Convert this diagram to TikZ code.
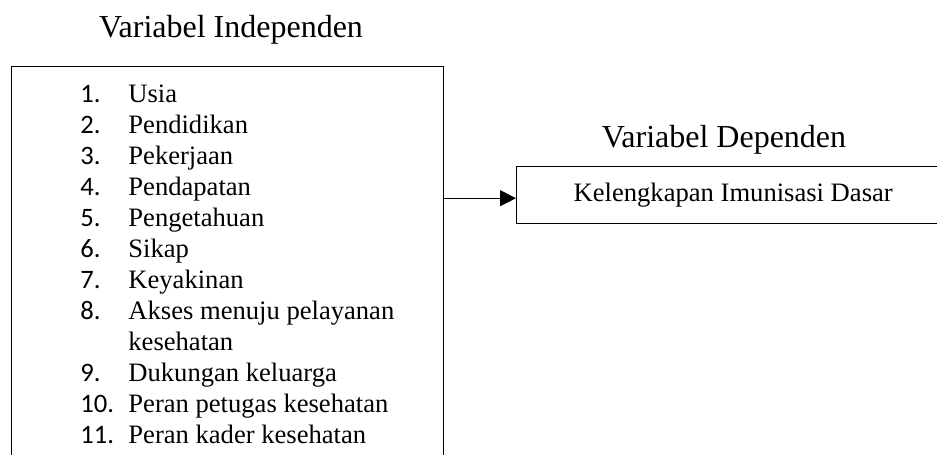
\documentclass[tikz,border=0pt]{standalone}
\usepackage{fontspec}
\setmainfont{Liberation Serif}
\newfontfamily\numfont{Carlito}
\usetikzlibrary{positioning, arrows.meta}

\begin{document}
\begin{tikzpicture}[
    x=0.5pt, y=-0.5pt,
    box/.style={rectangle, draw, line width=0.7pt, inner sep=0pt},
    heading/.style={font=\fontsize{16}{19}\selectfont, anchor=base, inner sep=0pt},
    listitem/.style={font=\fontsize{13.3}{15.5}\selectfont, anchor=base west, inner sep=0pt},
    numitem/.style={listitem, font=\numfont\fontsize{13.3}{15.5}\selectfont},
    arrow/.style={-{Triangle[length=8pt, width=8pt]}, line width=0.7pt}
]
\useasboundingbox (0,0) rectangle (937,455);
\clip (0,0) rectangle (937,455);

% judul
\node[heading] (tindep) at (231,37) {Variabel Independen};
\node[heading] (tdep) at (724,147) {Variabel Dependen};

% kotak
\node[box, minimum width=216pt, minimum height=210pt, anchor=north west] (indep) at (11,66) {};
\node[box, minimum width=216.5pt, minimum height=28.5pt, anchor=north west,
      font=\fontsize{13.3}{15.5}\selectfont] (dep) at (516,166) {Kelengkapan Imunisasi Dasar};

% daftar variabel
\foreach \num/\txt [count=\i] in {1./Usia, 2./Pendidikan, 3./Pekerjaan, 4./Pendapatan,
    5./Pengetahuan, 6./Sikap, 7./Keyakinan, 8./Akses menuju pelayanan, {}/kesehatan,
    9./Dukungan keluarga, 10./Peran petugas kesehatan, 11./Peran kader kesehatan}{
  \node[numitem] (num\i) at (80, {71+31*\i}) {\num};
  \node[listitem] (txt\i) at (128, {71+31*\i}) {\txt};
}

\draw[arrow] ([yshift=-1.5pt]indep.east |- dep.west) -- ([yshift=-1.5pt]dep.west);

\end{tikzpicture}
\end{document}
